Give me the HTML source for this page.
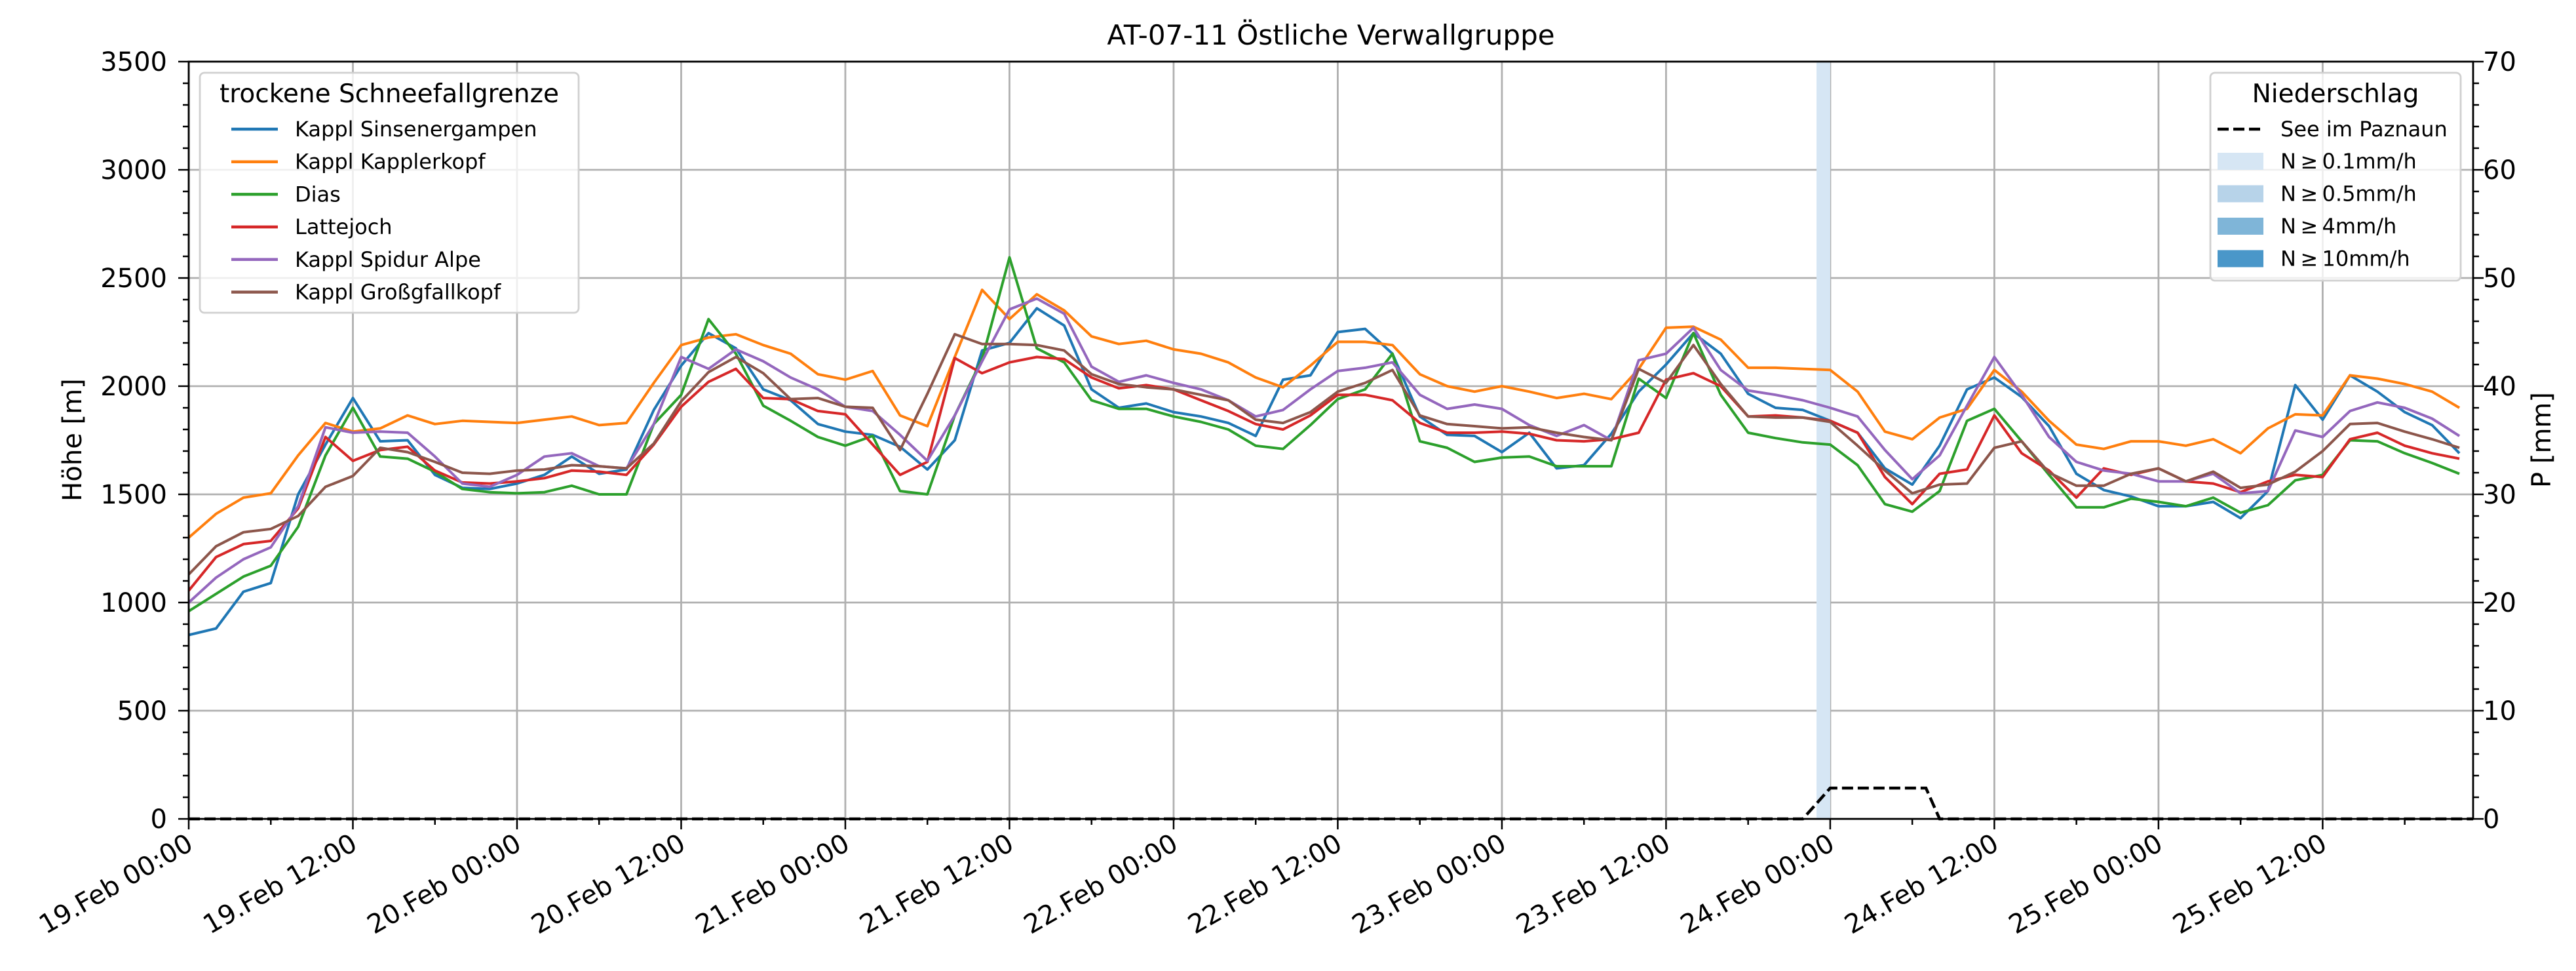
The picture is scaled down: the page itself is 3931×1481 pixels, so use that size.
<!DOCTYPE html>
<html><head><meta charset="utf-8"><style>
html,body{margin:0;padding:0;background:#fff;}
svg{display:block;font-family:"DejaVu Sans","Liberation Sans",sans-serif;}
</style></head><body>
<svg id="chart" width="3931" height="1481" viewBox="0 0 3931 1481" xmlns="http://www.w3.org/2000/svg">
<rect x="0" y="0" width="3931" height="1481" fill="#fff"/>
<g id="grid"></g>
<g id="bars"></g>
<g id="series"></g>
<g id="axes"></g>
<text x="2031" y="68" text-anchor="middle" font-size="42">AT-07-11 Östliche Verwallgruppe</text>
<text transform="translate(124,671) rotate(-90)" text-anchor="middle" font-size="40">Höhe [m]</text>
<text transform="translate(3892,671) rotate(-90)" text-anchor="middle" font-size="40">P [mm]</text>
<g id="legend1"></g>
<g id="legend2"></g>
</svg>
<script>
const hours = [0,2,4,6,8,10,12,14,16,18,20,22,24,26,28,30,32,34,36,38,40,42,44,46,48,50,52,54,56,58,60,62,64,66,68,70,72,74,76,78,80,82,84,86,88,90,92,94,96,98,100,102,104,106,108,110,112,114,116,118,120,122,124,126,128,130,132,134,136,138,140,142,144,146,148,150,152,154,156,158,160,162,164,166];
const sinsenergampen = [850,880,1050,1090,1500,1730,1945,1745,1750,1590,1530,1525,1550,1590,1675,1595,1615,1890,2095,2245,2175,1985,1935,1825,1790,1775,1720,1615,1750,2165,2200,2360,2280,1985,1900,1920,1880,1860,1830,1770,2030,2050,2250,2265,2150,1860,1775,1770,1695,1785,1620,1635,1780,1975,2100,2245,2150,1965,1900,1890,1840,1785,1620,1545,1725,1985,2040,1950,1815,1595,1520,1490,1445,1445,1465,1390,1515,2005,1845,2050,1975,1880,1820,1690];
const kapplerkopf = [1300,1410,1485,1505,1680,1830,1790,1805,1865,1825,1840,1835,1830,1845,1860,1820,1830,2015,2190,2225,2240,2190,2150,2055,2030,2070,1865,1815,2135,2445,2310,2425,2350,2230,2195,2210,2170,2150,2110,2040,1995,2095,2205,2205,2190,2055,2000,1975,2000,1975,1945,1965,1940,2080,2270,2275,2215,2085,2085,2080,2075,1975,1790,1755,1855,1895,2075,1975,1840,1730,1710,1745,1745,1725,1755,1690,1805,1870,1865,2050,2035,2010,1975,1900];
const dias = [960,1040,1120,1170,1350,1680,1900,1675,1665,1605,1525,1510,1505,1510,1540,1500,1500,1825,1960,2310,2150,1910,1840,1765,1725,1770,1515,1500,1865,2125,2595,2175,2110,1935,1895,1895,1860,1835,1800,1725,1710,1820,1940,1985,2150,1745,1715,1650,1670,1675,1630,1630,1630,2035,1945,2245,1960,1785,1760,1740,1730,1635,1455,1420,1515,1840,1895,1745,1590,1440,1440,1480,1465,1445,1485,1415,1450,1565,1590,1750,1745,1690,1645,1595];
const lattejoch = [1055,1210,1270,1285,1435,1765,1655,1705,1720,1610,1555,1550,1560,1575,1610,1605,1590,1730,1905,2020,2080,1945,1940,1885,1870,1730,1590,1650,2130,2060,2110,2135,2125,2040,1990,2005,1985,1935,1885,1825,1800,1865,1960,1960,1935,1830,1785,1785,1790,1780,1750,1745,1755,1785,2030,2060,2000,1860,1865,1855,1840,1785,1580,1455,1595,1615,1865,1690,1610,1485,1620,1590,1620,1560,1550,1510,1560,1590,1580,1755,1785,1725,1690,1665];
const spidurAlpe = [1000,1115,1200,1255,1445,1810,1785,1790,1785,1675,1550,1535,1590,1675,1690,1630,1620,1825,2135,2080,2170,2115,2040,1985,1905,1885,1775,1655,1865,2115,2355,2405,2335,2090,2020,2050,2015,1985,1935,1860,1890,1985,2070,2085,2110,1960,1895,1915,1895,1820,1770,1820,1750,2120,2150,2270,2075,1980,1960,1935,1900,1860,1705,1570,1680,1910,2135,1960,1765,1650,1610,1595,1560,1560,1595,1505,1515,1795,1765,1885,1925,1900,1850,1770];
const grossgfallkopf = [1130,1260,1325,1340,1400,1535,1585,1715,1695,1650,1600,1595,1610,1615,1635,1630,1620,1735,1930,2065,2135,2060,1940,1945,1905,1900,1705,1965,2240,2195,2195,2190,2165,2055,2010,1995,1985,1960,1935,1845,1830,1880,1975,2015,2075,1865,1825,1815,1805,1810,1785,1765,1750,2080,2015,2190,2010,1860,1855,1855,1835,1725,1610,1505,1545,1550,1715,1745,1600,1540,1540,1595,1620,1560,1605,1530,1545,1605,1700,1825,1830,1790,1755,1715];
const seriesNames = ["Kappl Sinsenergampen","Kappl Kapplerkopf","Dias","Lattejoch","Kappl Spidur Alpe","Kappl Großgfallkopf"];
const precipHours = [0,118,120,127,128,167];
const precipValues = [0,0,2.85,2.85,0,0];
const barStart = [119];
const barEnd = [120];
const barLevel = [0.1];
const xTickLabels = ["19.Feb 00:00","19.Feb 12:00","20.Feb 00:00","20.Feb 12:00","21.Feb 00:00","21.Feb 12:00","22.Feb 00:00","22.Feb 12:00","23.Feb 00:00","23.Feb 12:00","24.Feb 00:00","24.Feb 12:00","25.Feb 00:00","25.Feb 12:00"];
const yTicks = [0,500,1000,1500,2000,2500,3000,3500];
const y2Ticks = [0,10,20,30,40,50,60,70];

const L=288,R=3774,T=94,B=1249,HMAX=167;
const NS='http://www.w3.org/2000/svg';
const xs=h=>L+(h/HMAX)*(R-L);
const ys=v=>B-(v/3500)*(B-T);
const y2s=v=>B-(v/70)*(B-T);
function mk(tag,attrs,parent){const e=document.createElementNS(NS,tag);for(const k in attrs)e.setAttribute(k,attrs[k]);parent.appendChild(e);return e;}
const grid=document.getElementById('grid'),axes=document.getElementById('axes'),bars=document.getElementById('bars'),series=document.getElementById('series');
const colors=['#1f77b4','#ff7f0e','#2ca02c','#d62728','#9467bd','#8c564b'];
const blues=['#d6e6f4','#b7d3e9','#7fb5d8','#4a97c9'];

xTickLabels.forEach((lab,i)=>{
  const x=xs(i*12);
  const g=mk('line',{x1:x,x2:x,y1:T,y2:B,stroke:'#b0b0b0','stroke-width':2.8},grid);
  
  
});
yTicks.forEach(v=>{
  const y=ys(v);
  const g=mk('line',{x1:L,x2:R,y1:y,y2:y,stroke:'#b0b0b0','stroke-width':2.8},grid);
  
  
});
barStart.forEach((s,i)=>{
  const r=mk('rect',{x:xs(s),y:T,width:xs(barEnd[i])-xs(s),height:B-T,fill:blues[0]},bars);
  
  
});
const data=[sinsenergampen,kapplerkopf,dias,lattejoch,spidurAlpe,grossgfallkopf];
data.forEach((arr,si)=>{
  const pts=arr.map((v,i)=>xs(hours[i]).toFixed(1)+','+ys(v).toFixed(1)).join(' ');
  const p=mk('polyline',{points:pts,fill:'none',stroke:colors[si],'stroke-width':4,'stroke-linejoin':'round'},series);
  
  
});
const ppts=precipHours.map((h,i)=>xs(h).toFixed(1)+','+y2s(precipValues[i]).toFixed(1)).join(' ');
const pl=mk('polyline',{points:ppts,fill:'none',stroke:'#000','stroke-width':4.5,'stroke-dasharray':'17,7'},series);



const fr=mk('rect',{x:L,y:T,width:R-L,height:B-T,fill:'none',stroke:'#000','stroke-width':2.8},axes);


for(let v=0;v<=3500;v+=100){
  const y=ys(v),major=v%500===0;
  const t=mk('line',{x1:L-(major?16:9),x2:L,y1:y,y2:y,stroke:'#000','stroke-width':2.5},axes);
  
  
}
yTicks.forEach(v=>{
  const t=mk('text',{x:255,y:ys(v)+14,'text-anchor':'end','font-size':40},axes);
  t.textContent=v;
  
  
});
for(let v=0;v<=70;v+=2){
  const y=y2s(v),major=v%10===0;
  const t=mk('line',{x1:R,x2:R+(major?16:9),y1:y,y2:y,stroke:'#000','stroke-width':2.5},axes);
  
  
}
y2Ticks.forEach(v=>{
  const t=mk('text',{x:3789,y:y2s(v)+14,'font-size':40},axes);
  t.textContent=v;
  
  
});
for(let h=0;h<=HMAX;h+=6){
  const x=xs(h),major=h%12===0;
  const t=mk('line',{x1:x,x2:x,y1:B,y2:B+(major?16:9),stroke:'#000','stroke-width':2.5},axes);
  
  
}
xTickLabels.forEach((lab,i)=>{
  const x=xs(i*12);
  const t=mk('text',{transform:'translate('+(x-6)+',1268) rotate(-30)','text-anchor':'end','font-size':40,dy:'0.76em'},axes);
  t.textContent=lab;
  
  
});

const lg1=document.getElementById('legend1');
mk('rect',{x:305,y:111,width:578,height:366,rx:7,fill:'#fff','fill-opacity':0.8,stroke:'#d0d0d0','stroke-width':2.8},lg1);
const t1=mk('text',{x:594,y:156,'text-anchor':'middle','font-size':39},lg1);
t1.textContent='trockene Schneefallgrenze';
seriesNames.forEach((n,i)=>{
  const y=197+i*49.7;
  const l=mk('line',{x1:353,x2:424,y1:y,y2:y,stroke:colors[i],'stroke-width':4.5},lg1);
  
  
  const t=mk('text',{x:450,y:y+11,'font-size':32},lg1);
  t.textContent=n;
  
  
});
const lg2=document.getElementById('legend2');
mk('rect',{x:3373,y:111,width:382,height:317,rx:7,fill:'#fff','fill-opacity':0.8,stroke:'#d0d0d0','stroke-width':2.8},lg2);
const t2=mk('text',{x:3564,y:156,'text-anchor':'middle','font-size':39},lg2);
t2.textContent='Niederschlag';
const l2=mk('line',{x1:3384,x2:3454,y1:197,y2:197,stroke:'#000','stroke-width':4.5,'stroke-dasharray':'17,7'},lg2);


const t3=mk('text',{x:3480,y:208,'font-size':32},lg2);
t3.textContent='See im Paznaun';


const plabs=['N\u2009\u2265\u20090.1mm/h','N\u2009\u2265\u20090.5mm/h','N\u2009\u2265\u20094mm/h','N\u2009\u2265\u200910mm/h'];
plabs.forEach((s,i)=>{
  const y=246+i*49.5;
  const r=mk('rect',{x:3384,y:y-13,width:70,height:26,fill:blues[i]},lg2);
  
  
  const t=mk('text',{x:3480,y:y+11,'font-size':32},lg2);
  t.textContent=s;
  
  
});
</script>
</body></html>
